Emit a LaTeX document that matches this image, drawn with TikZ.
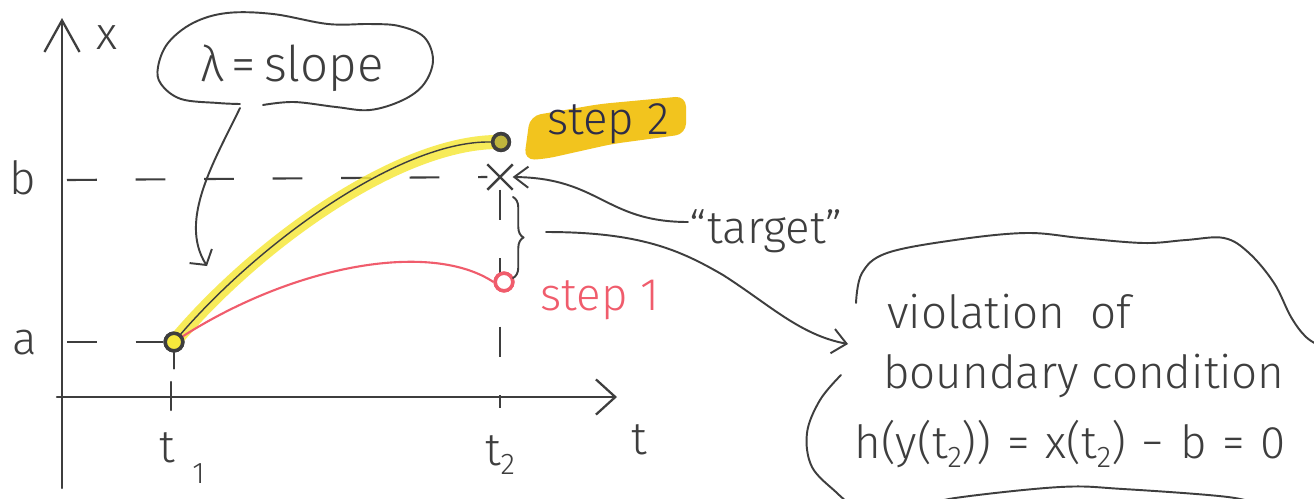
\documentclass[tikz,border=0pt]{standalone}
\usepackage{fontspec}
\setmainfont{Fira Sans}[UprightFont={* Light}]
\usetikzlibrary{arrows.meta,decorations.pathreplacing,shapes.misc}
\definecolor{ink}{RGB}{62,62,62}
\definecolor{navyink}{RGB}{45,45,72}
\definecolor{redink}{RGB}{240,92,108}
\definecolor{hilite}{RGB}{246,232,60}
\definecolor{hilitetwo}{RGB}{242,196,30}
\newcommand{\hsub}[1]{\raisebox{-0.4ex}{\fontsize{17}{17}\selectfont #1}}
\newcommand{\gap}{\hspace{9pt}}
\begin{document}
\begin{tikzpicture}[x=0.02cm,y=-0.02cm,
  inkline/.style={draw=ink,line width=1.3pt,line cap=round,line join=round},
  hand/.style={text=ink,font=\fontsize{26}{30}\selectfont,inner sep=0pt},
  guide/.style={draw=ink,line width=1.2pt,dash pattern=on 17pt off 22pt},
  ptbox/.style={circle,draw=ink,line width=2pt,minimum size=10pt,inner sep=0pt},
  redpt/.style={circle,draw=redink,line width=2pt,fill=white,minimum size=10pt,inner sep=0pt},
  bubble/.style={inkline,line width=1.1pt}
]
\useasboundingbox (0,0) rectangle (1314,498);
\fill[white] (0,0) rectangle (1314,498);

% coordinates
\coordinate (yB) at (62,488);
\coordinate (yT) at (62,18);
\coordinate (xL) at (57,397);
\coordinate (xR) at (617,397);
\coordinate (bL) at (67,180);
\coordinate (aL) at (67,342);
\coordinate (t2b) at (500,408);
\coordinate (t1a) at (171,382);
\coordinate (t1b) at (171,410);
\coordinate (tailS) at (240,108);
\coordinate (tailE) at (207,266);
\coordinate (tgS) at (688,222);
\coordinate (brT) at (513,197);
\coordinate (brB) at (513,278);
\coordinate (brTip) at (546,232);
\coordinate (violE) at (848,344);

% highlight of step 2
\fill[hilitetwo,rounded corners=6pt] (524,160) -- (530,116) -- (600,104) -- (686,96) -- (686,134) -- (612,144) -- (545,159) -- cycle;

% points (nodes)
\node[ptbox,fill=hilite] (A) at (174,342) {};
\node[ptbox,fill=hilite!70!ink,minimum size=9.5pt] (S2) at (501,142) {};
\node[redpt] (S1) at (504,282) {};
\node[cross out,draw=ink,line width=1.4pt,minimum size=13pt,inner sep=0pt] (T) at (500,177) {};

% axes
\draw[inkline,-{Straight Barb[length=18pt,width=20pt,line width=1.3pt]}] (yB) -- (yT);
\draw[inkline,-{Straight Barb[length=11pt,width=20pt,line width=1.3pt]}] (xL) -- (xR);
\draw[inkline] (t1a) -- (t1b);
\draw[inkline] (A.south) -- ++(0,16);

% guides
\draw[guide] (bL) -- (T.west);
\draw[guide] (aL) -- (A.west);
\draw[guide] (T.south) -- (t2b);

% trajectories
\draw[hilite,line width=8pt,line cap=round,opacity=0.85] (A.center) .. controls (255,245) and (400,140) .. (S2.center);
\draw[ink,line width=0.8pt] (A.center) .. controls (255,245) and (400,140) .. (S2.west);
\draw[redink,line width=1.2pt] (A.center) .. controls (290,265) and (430,240) .. (S1.west);

% redraw points on top
\node[ptbox,fill=hilite] at (A) {};
\node[ptbox,fill=hilite!70!ink,minimum size=9.5pt] at (S2) {};
\node[redpt] at (S1) {};

% labels
\node[hand] (lblx) at (107,38) {x};
\node[hand] (lblt) at (639,440) {t};
\node[hand] (lblb) at (23,178) {b};
\node[hand] (lbla) at (25,343) {a};
\node[hand] (lblt1) at (182,458) {t\kern10pt\raisebox{-12pt}{\fontsize{17}{17}\selectfont 1}};
\node[hand] (lblt2) at (500,455) {t\hsub{2}};
\node[hand,text=navyink] (step2) at (608,124) {step 2};
\node[hand,text=redink] (step1) at (600,300) {step 1};
\node[hand] (target) at (766,231) {“target”};
\node[hand,font=\fontsize{28}{32}\selectfont] (lambda) at (292,68) {λ\,=\,slope};

% left bubble
\draw[bubble] plot[smooth,tension=0.6] coordinates {(263,105) (294,102) (336,107) (370,110) (403,100) (424,84) (433,60) (424,37) (399,26) (370,24) (328,24) (273,14) (227,13) (193,23) (168,43) (158,67) (161,84) (181,99) (218,103) (240,104)};
\draw[bubble,-{Straight Barb[length=6pt,width=15pt,line width=1.1pt]}] (tailS) .. controls (215,160) and (178,220) .. (tailE);

% target arrow
\draw[bubble,-{Straight Barb[length=8pt,width=12pt,line width=1.1pt]}] (tgS) .. controls (605,222) and (600,178) .. (T.east);

% brace
\draw[bubble,decorate,decoration={brace,amplitude=6pt}] (brT) -- (brB);
\draw[bubble,-{Straight Barb[length=8pt,width=14pt,line width=1.1pt]}] (brTip) .. controls (640,232) and (680,250) .. (723,275) .. controls (770,305) and (800,335) .. (violE);

% right bubble
\begin{scope}
\clip (0,0) rectangle (1314,498);
\draw[bubble] plot[smooth,tension=0.6] coordinates {(856,303) (862,273) (887,253) (955,240) (1026,233) (1081,238) (1144,243) (1186,240) (1224,238) (1249,253) (1274,283) (1291,317) (1306,337) (1322,347)};
\draw[bubble] plot[smooth,tension=0.6] coordinates {(841,375) (820,400) (807,433) (812,467) (837,493) (852,506)};
\draw[bubble] plot[smooth,tension=0.6] coordinates {(930,506) (955,498) (1060,487) (1123,489) (1228,497) (1262,506)};
\end{scope}

\node[hand,anchor=base west] (viol1) at (887,328) {violation\ \ of};
\node[hand,anchor=base west] (viol2) at (883,388) {boundary condition};
\node[hand,anchor=base west] (viol3) at (854,458) {h(y(t\hsub{2}))\gap=\gap x(t\hsub{2})\gap−\gap b\gap=\gap 0};
\end{tikzpicture}
\end{document}
